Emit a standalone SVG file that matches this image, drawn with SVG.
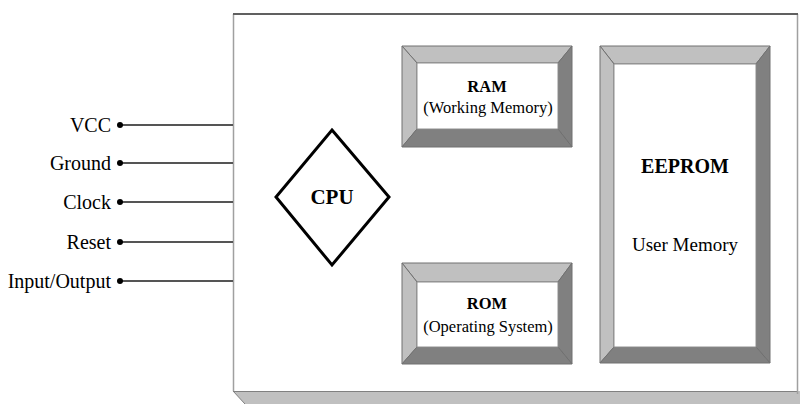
<svg xmlns="http://www.w3.org/2000/svg" width="800" height="404" viewBox="0 0 800 404">
<style>
text{font-family:"Liberation Serif","Times New Roman",serif;fill:#000}
.pin{font-size:20px;text-anchor:end}
.lbl{font-size:16.5px;text-anchor:middle}
.b{font-weight:bold}
.lt{fill:#c0c0c0;stroke:#707070;stroke-width:1}
.dk{fill:#808080;stroke:#707070;stroke-width:1}
.wire{stroke:#555;stroke-width:2;fill:none}
</style>
<rect width="800" height="404" fill="#fff"/>
<g id="card">
<polygon points="233,391 800,391 800,404 245,404" fill="#c0c0c0"/>
<line x1="233" y1="391.5" x2="797" y2="391.5" stroke="#808080" stroke-width="1"/>
<line x1="233" y1="391" x2="245" y2="404" stroke="#808080" stroke-width="1"/>
<rect x="233" y="14" width="564" height="377" fill="#fff"/>
<line x1="233.5" y1="14" x2="233.5" y2="391" stroke="#a0a0a0" stroke-width="1.5"/>
<line x1="797.5" y1="14" x2="797.5" y2="394" stroke="#a0a0a0" stroke-width="1.5"/>
<line x1="233" y1="14" x2="798" y2="14" stroke="#606060" stroke-width="2"/>
</g>
<g id="connectors">
<line class="wire" x1="120" y1="125" x2="233" y2="125"/>
<line class="wire" x1="120" y1="163" x2="233" y2="163"/>
<line class="wire" x1="120" y1="202" x2="233" y2="202"/>
<line class="wire" x1="120" y1="242" x2="233" y2="242"/>
<line class="wire" x1="120" y1="281" x2="233" y2="281"/>
</g>
<g id="pin-vcc"><circle cx="120" cy="125" r="3" fill="#000"/><text class="pin" x="111" y="132">VCC</text></g>
<g id="pin-ground"><circle cx="120" cy="163" r="3" fill="#000"/><text class="pin" x="111" y="170">Ground</text></g>
<g id="pin-clock"><circle cx="120" cy="202" r="3" fill="#000"/><text class="pin" x="111" y="209">Clock</text></g>
<g id="pin-reset"><circle cx="120" cy="242" r="3" fill="#000"/><text class="pin" x="111" y="249">Reset</text></g>
<g id="pin-io"><circle cx="120" cy="281" r="3" fill="#000"/><text class="pin" x="111" y="288">Input/Output</text></g>
<g id="cpu">
<polygon points="332,130 389,197 332,265 276,197" fill="#fff" stroke="#000" stroke-width="3" stroke-linejoin="miter"/>
<text class="b" x="332" y="204" font-size="21" text-anchor="middle">CPU</text>
</g>
<g id="ram">
<polygon class="lt" points="402,46 572,46 558,63 417,63"/>
<polygon class="lt" points="402,46 417,63 417,129 402,147"/>
<polygon class="dk" points="572,46 572,147 558,129 558,63"/>
<polygon class="dk" points="402,147 417,129 558,129 572,147"/>
<rect x="417" y="63" width="141" height="66" fill="#fff" stroke="#909090" stroke-width="1"/>
<text class="lbl b" x="487" y="92" font-size="17">RAM</text>
<text class="lbl" x="488" y="113">(Working Memory)</text>
</g>
<g id="rom">
<polygon class="lt" points="402,263 572,263 558,282 417,282"/>
<polygon class="lt" points="402,263 417,282 417,347 402,364"/>
<polygon class="dk" points="572,263 572,364 558,347 558,282"/>
<polygon class="dk" points="402,364 417,347 558,347 572,364"/>
<rect x="417" y="282" width="141" height="65" fill="#fff" stroke="#909090" stroke-width="1"/>
<text class="lbl b" x="487" y="309" font-size="17">ROM</text>
<text class="lbl" x="488" y="332">(Operating System)</text>
</g>
<g id="eeprom">
<polygon class="lt" points="600,46 770,46 756,64 614,64"/>
<polygon class="lt" points="600,46 614,64 614,347 600,363"/>
<polygon class="dk" points="770,46 770,363 756,347 756,64"/>
<polygon class="dk" points="600,363 614,347 756,347 770,363"/>
<rect x="614" y="64" width="142" height="283" fill="#fff" stroke="#909090" stroke-width="1"/>
<text class="b" x="685" y="173" font-size="20" text-anchor="middle">EEPROM</text>
<text x="685" y="251" font-size="19" text-anchor="middle">User Memory</text>
</g>
</svg>
